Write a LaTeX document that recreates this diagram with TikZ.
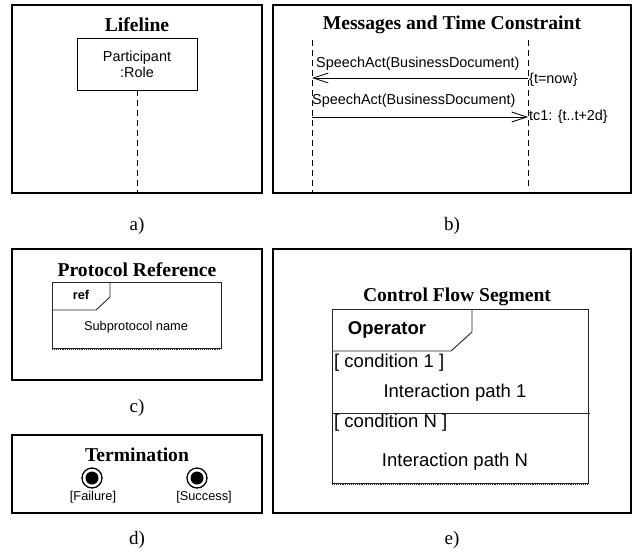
\documentclass[tikz,border=0pt]{standalone}
\usepackage{fontspec}
\setmainfont{Liberation Serif}
\setsansfont{Liberation Sans}
\usetikzlibrary{arrows.meta}

\begin{document}
\begin{tikzpicture}[x=1pt, y=-1pt,
  panel/.style={draw, line width=2pt},
  title/.style={font=\fontsize{19.6}{22}\selectfont\bfseries, inner sep=0pt},
  caption/.style={font=\fontsize{19}{22}\selectfont, inner sep=0pt},
  small/.style={font=\sffamily\fontsize{14.4}{16}\selectfont, inner sep=0pt},
  tiny/.style={font=\sffamily\fontsize{12.8}{15}\selectfont, inner sep=0pt},
  big/.style={font=\sffamily\fontsize{18.5}{21}\selectfont, inner sep=0pt},
  lifeline/.style={dash pattern=on 6pt off 4pt, line width=0.8pt},
  frame/.style={line width=0.9pt, black!85},
  msg/.style={line width=0.8pt, -{Straight Barb[length=15pt, width=10pt, line width=0.8pt]}},
  endstate/.style={circle, draw, line width=1.3pt, minimum size=20pt, inner sep=0pt,
    path picture={\fill (path picture bounding box.center) circle (6.5pt);}}
]
\useasboundingbox (0,0) rectangle (636,554);

% panels
\draw[panel] (12,5) rectangle (262,193);
\draw[panel] (273,5) rectangle (631,193);
\draw[panel] (12,249) rectangle (262,380);
\draw[panel] (12,435) rectangle (262,513);
\draw[panel] (273,249) rectangle (631,513);

\node[caption] (capa) at (137,226) {a)};
\node[caption] (capb) at (452,226) {b)};
\node[caption] (capc) at (137,408) {c)};
\node[caption] (capd) at (137,540) {d)};
\node[caption] (cape) at (452,540) {e)};

% a) lifeline
\node[title] (ttla) at (137,25) {Lifeline};
\node[small, draw, line width=0.9pt, minimum width=120pt, minimum height=52pt, align=center] (part) at (137,64) {Participant\\:Role};
\coordinate (partend) at (137,193);
\draw[lifeline] (part.south) -- (partend);

% b) messages
\node[title] (ttlb) at (452,25) {Messages and Time Constraint};
\coordinate (snd) at (312,40);
\coordinate (sndend) at (312,193);
\coordinate (rcv) at (528,40);
\coordinate (rcvend) at (528,186);
\draw[lifeline] (snd) -- (sndend);
\draw[lifeline] (rcv) -- (rcvend);
\coordinate (m1a) at (528,78);
\coordinate (m1b) at (312,78);
\coordinate (m2a) at (312,117);
\coordinate (m2b) at (528,117);
\draw[msg] (m1a) -- (m1b);
\draw[msg] (m2a) -- (m2b);
\node[small, anchor=west] (lbl1) at (316,64) {SpeechAct(BusinessDocument)};
\node[small, anchor=west] (lbl2) at (312,101) {SpeechAct(BusinessDocument)};
\node[small, anchor=west] (tnow) at (529,80) {\{t=now\}};
\node[small, anchor=west] (tc1) at (529,117) {tc1: \{t..t+2d\}};

% c) protocol reference
\node[title] (ttlc) at (137,270) {Protocol Reference};
\draw[frame] (52,348) -- (52,282) -- (221,282) -- (221,348) -- cycle;
\draw[frame, densely dotted] (52,349.5) -- (221,349.5);
\draw[frame] (52,310) -- (96,310) -- (110,297) -- (110,282);
\node[tiny, font=\sffamily\bfseries\fontsize{12.8}{15}\selectfont] (refl) at (81,295) {ref};
\node[tiny] (subp) at (136,327) {Subprotocol name};

% d) termination
\node[title] (ttld) at (137,455) {Termination};
\node[endstate] (fail) at (92,478) {};
\node[endstate] (succ) at (197,478) {};
\node[tiny] (faill) at (93,497) {[Failure]};
\node[tiny] (succl) at (204,497) {[Success]};

% e) control flow segment
\node[title] (ttle) at (457,297) {Control Flow Segment};
\draw[frame] (332,483) -- (332,309) -- (588,309) -- (588,483) -- cycle;
\draw[frame, densely dotted] (332,484.5) -- (588,484.5);
\draw[frame] (332,351) -- (451,351) -- (472,332) -- (472,309);
\node[big, font=\sffamily\bfseries\fontsize{18.5}{21}\selectfont] (oper) at (387,330) {Operator};
\node[big, anchor=west] (cnd1) at (334,363) {[ condition 1 ]};
\node[big] (path1) at (455,393) {Interaction path 1};
\draw[frame] (332,413) -- (590,413);
\node[big, anchor=west] (cndn) at (334,423) {[ condition N ]};
\node[big] (pathn) at (455,462) {Interaction path N};
\end{tikzpicture}
\end{document}
